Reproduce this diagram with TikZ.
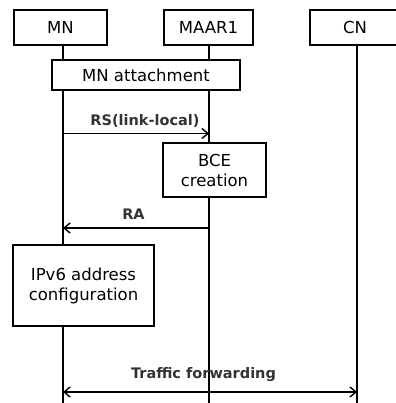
\documentclass[tikz,border=0pt]{standalone}
\usepackage{fontspec}
\setmainfont{DejaVu Sans}
\usetikzlibrary{arrows.meta}
\begin{document}
\begin{tikzpicture}[x=1pt,y=-1pt,
  ent/.style={draw,line width=2.2pt,minimum height=35pt,inner sep=0pt,font=\fontsize{16.5}{20}\selectfont},
  act/.style={draw,line width=2.2pt,inner sep=0pt,align=center,font=\fontsize{16.5}{20}\selectfont},
  life/.style={line width=2pt},
  barb/.tip={Straight Barb[length=6pt,width=10pt,line width=1.4pt]},
  msg/.style={line width=1.4pt,-barb},
  lbl/.style={font=\bfseries\fontsize{14.5}{16}\selectfont,text=black!80,inner sep=0pt}]
\useasboundingbox (0,0) rectangle (395,403);
\node[ent,minimum width=93pt] (mn) at (60.5,27.5) {MN};
\node[ent,minimum width=89pt] (maar) at (208.5,27.5) {MAAR1};
\node[ent,minimum width=90pt] (cn) at (355,27.5) {CN};
\coordinate (mnend) at (63,403);
\coordinate (maarend) at (209,403);
\coordinate (cnend) at (357,403);
\draw[life] (mn.south) ++(2.5,0) -- (mnend);
\draw[life] (maar.south) ++(0.5,0) -- (maarend);
\draw[life] (cn.south) ++(2,0) -- (cnend);
\node[act,fill=white,minimum width=188pt,minimum height=30pt] (att) at (146,75) {MN attachment};
\coordinate (rs1) at (63,133.5);
\coordinate (rs2) at (209,133.5);
\draw[msg] (rs1) -- (rs2);
\node[lbl] (rslbl) at (145,121) {RS(link-local)};
\node[act,fill=white,minimum width=103pt,minimum height=54pt] (bce) at (214.5,170) {BCE\\creation};
\coordinate (ra1) at (209,228);
\coordinate (ra2) at (63,228);
\draw[msg] (ra1) -- (ra2);
\node[lbl] (ralbl) at (133.5,214) {RA};
\node[act,fill=white,minimum width=141pt,minimum height=81pt] (ipv6) at (83.5,285.5) {IPv6 address\\configuration};
\coordinate (tf1) at (63,392);
\coordinate (tf2) at (357,392);
\draw[msg,barb-barb] (tf1) -- (tf2);
\node[lbl] (tflbl) at (203.5,375) {Traffic forwarding};
\end{tikzpicture}
\end{document}
